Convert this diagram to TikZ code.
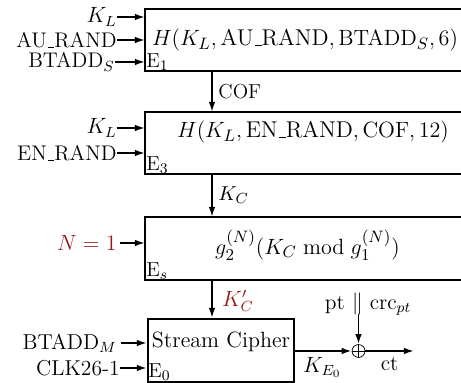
\documentclass[tikz,border=0pt]{standalone}
\usetikzlibrary{arrows.meta}
\definecolor{dred}{RGB}{150,25,25}
\newcommand{\myus}{\leavevmode\kern.06em\vbox{\hrule width.3em}}
\begin{document}
\begin{tikzpicture}[x=0.5435pt,y=-0.5435pt,
  every node/.style={font=\fontsize{11}{13}\selectfont, inner sep=0pt},
  big/.style={font=\fontsize{12}{14}\selectfont},
  form/.style={font=\fontsize{12.4}{15}\selectfont},
  mid/.style={font=\fontsize{11.7}{14}\selectfont},
  up/.style={font=\fontsize{11.5}{14}\selectfont},
  arr/.style={-{Latex[length=5.5pt,width=3.6pt]}, line width=1pt},
  boxl/.style={line width=1pt},
  lbl/.style={anchor=east}]
\clip (0,0) rectangle (461,383);
\useasboundingbox (0,0) rectangle (461,383);
% boxes
\draw[boxl] (470,9) -- (145,9) -- (145,71) -- (470,71);
\draw[boxl] (470,112) -- (145,112) -- (145,174) -- (470,174);
\draw[boxl] (470,217) -- (145,217) -- (145,280) -- (470,280);
\node[draw, line width=1pt, minimum width=79.35pt, minimum height=34.2pt, anchor=north west] (sc) at (147,318) {};
\coordinate (b1t) at (212,9); \coordinate (b1b) at (212,71);
\coordinate (b2t) at (212,112); \coordinate (b2b) at (212,174);
\coordinate (b3t) at (212,217); \coordinate (b3b) at (212,280);
\coordinate (sctop) at (212,318);
% box texts
\node[form] (h1) at (305,40) {$H(K_L,\mbox{AU\myus RAND},\mathrm{BTADD}_S,6)$};
\node[form] (h2) at (313,132) {$H(K_L,\mbox{EN\myus RAND},\mathrm{COF},12)$};
\node[form] (h3) at (307.5,245) {$g_2^{(N)}(K_C \bmod g_1^{(N)})$};
\node[big] (sct) at (221,342) {Stream Cipher};
\node[anchor=south west] (e1) at (146,71) {E$_1$};
\node[anchor=south west] (e3) at (146,174) {E$_3$};
\node[anchor=south west] (es) at (146,280) {E$_s$};
\node[anchor=south west] (e0) at (148,381) {E$_0$};
% inputs box1
\node[lbl, up] (kl1) at (117,17) {$K_L$};
\node[lbl, up] (au) at (117,40) {AU\myus RAND};
\node[lbl, up] (bs) at (115,62) {BTADD$_S$};
\coordinate (i11) at (145,17); \coordinate (i12) at (145,40); \coordinate (i13) at (145,62);
\draw[arr] (kl1.east) -- (i11);
\draw[arr] (au.east) -- (i12);
\draw[arr] (bs.east) -- (i13);
% inputs box2
\node[lbl, up] (kl2) at (117,128) {$K_L$};
\node[lbl, up] (en) at (117,153) {EN\myus RAND};
\coordinate (i21) at (145,128); \coordinate (i22) at (145,153);
\draw[arr] (kl2.east) -- (i21);
\draw[arr] (en.east) -- (i22);
% input box3
\node[lbl, mid, text=dred] (n1) at (117,243) {$N=1$};
\coordinate (i31) at (145,243);
\draw[arr] ([xshift=1.5pt]n1.east) -- (i31);
% inputs SC
\node[lbl, mid] (bm) at (117,343) {BTADD$_M$};
\node[lbl, mid] (clk) at (120,368) {CLK26-1};
\coordinate (i41) at (147,343); \coordinate (i42) at (147,368);
\draw[arr] ([xshift=2pt]bm.east) -- (i41);
\draw[arr] (clk.east) -- (i42);
% vertical arrows
\draw[arr] (b1b) -- node[right=3pt] {COF} (b2t);
\draw[arr] (b2b) -- node[right=3pt] {$K_C$} (b3t);
\draw[arr] (b3b) -- node[mid, right=5pt, text=dred, yshift=-1pt] {$K_C'$} (sctop);
% xor
\node[draw, circle, minimum size=7pt, line width=0.4pt] (x) at (358.5,351) {};
\draw[line width=0.4pt] (x.north) -- (x.south) (x.west) -- (x.east);
\draw[arr] (293,351) -- node[mid, below=3pt] {$K_{E_0}$} (x.west);
\coordinate (out) at (414,351);
\draw[arr] (x.east) -- node[mid, below=3pt] {ct} (out);
\node[mid] (pt) at (368,304) {pt $\parallel$ crc$_{pt}$};
\draw[arr] (358.5,314) -- (x.north);
\end{tikzpicture}
\end{document}
